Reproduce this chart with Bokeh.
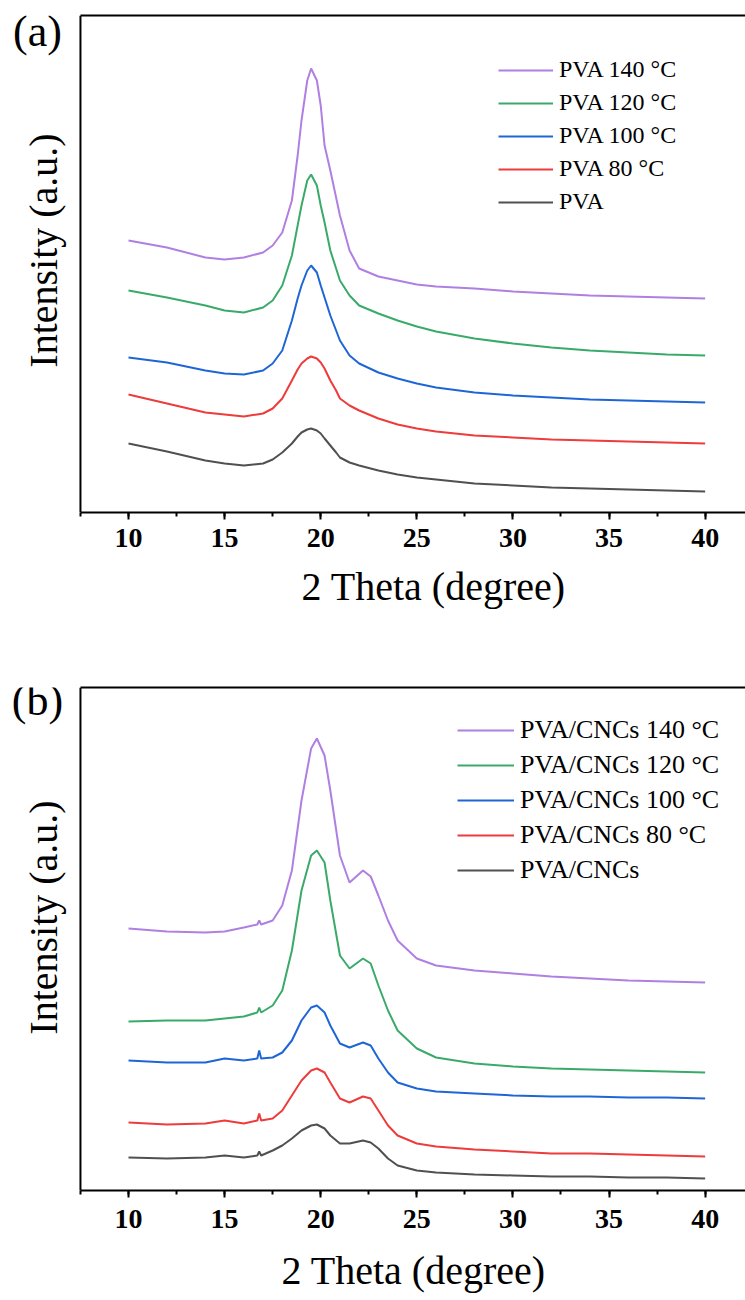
from bokeh.plotting import figure
from bokeh.layouts import column
from bokeh.models import (Range1d, SingleIntervalTicker, FixedTicker, Legend,
                          LegendItem, Label, Span, LinearAxis)
from bokeh.embed import file_html
from bokeh.resources import INLINE
import math

# ---------------- data (a) ----------------
theta_a = [10, 12, 14, 15, 16, 17, 17.5, 18, 18.5, 18.8, 19, 19.3, 19.5, 19.8,
           20, 20.2, 20.5, 20.8, 21, 21.5, 22, 23, 24, 25, 26, 28, 30, 32, 34,
           36, 38, 40]
pva_140 = [272, 265, 255, 253, 255, 260, 267, 280, 312, 357, 392, 432, 444, 432,
           407, 367, 342, 315, 297, 262, 244, 236, 232, 228, 226, 224, 221, 219,
           217, 216, 215, 214]
pva_120 = [222, 215, 207, 202, 200, 205, 212, 227, 257, 287, 307, 332, 338, 327,
           307, 290, 262, 244, 232, 217, 207, 199, 192, 186, 181, 174, 169, 165,
           162, 160, 158, 157]
pva_100 = [155, 150, 142, 139, 138, 142, 149, 162, 192, 214, 227, 242, 247, 240,
           227, 215, 197, 182, 172, 157, 149, 140, 134, 129, 125, 120, 117, 115,
           113, 112, 111, 110]
pva_80 = [118, 109, 100, 98, 96, 99, 104, 114, 132, 143, 149, 154, 156, 154,
          150, 144, 132, 122, 114, 107, 102, 94, 88, 84, 81, 77, 75, 73,
          72, 71, 70, 69]
pva_0 = [69, 61, 52, 49, 47, 49, 53, 60, 69, 76, 80, 83, 84, 82,
         79, 74, 67, 60, 55, 50, 47, 42, 38, 35, 33, 29, 27, 25,
         24, 23, 22, 21]
labels_a = ["PVA 140 °C", "PVA 120 °C", "PVA 100 °C", "PVA 80 °C", "PVA"]

# ---------------- data (b) ----------------
theta_b = [10, 12, 14, 15, 16, 16.7, 16.8, 16.9, 17.5, 18, 18.5, 19, 19.5, 19.8,
           20.2, 20.5, 21, 21.5, 22.2, 22.6, 23, 23.5, 24, 25, 26, 28, 30, 32,
           34, 36, 38, 40]
cnc_140 = [262, 259, 258, 259, 263, 266, 270, 266, 270, 285, 320, 390, 442, 452,
           435, 400, 335, 308, 320, 314, 295, 270, 250, 232, 225, 220, 217, 214,
           212, 210, 209, 208]
cnc_120 = [169, 170, 170, 172, 174, 178, 183, 178, 185, 200, 240, 300, 335, 340,
           328, 290, 235, 222, 232, 227, 205, 180, 160, 142, 133, 127, 124, 122,
           121, 120, 119, 118]
cnc_100 = [130, 128, 128, 132, 130, 132, 140, 132, 133, 138, 150, 170, 183, 185,
           178, 165, 147, 143, 148, 145, 132, 118, 108, 102, 99, 97, 95, 94,
           94, 93, 93, 92]
cnc_80 = [68, 66, 67, 70, 67, 70, 77, 70, 72, 80, 95, 110, 120, 122,
          118, 108, 92, 88, 94, 92, 80, 65, 55, 47, 44, 41, 39, 37,
          37, 36, 35, 34]
cnc_0 = [33, 32, 33, 35, 33, 35, 39, 35, 40, 45, 52, 60, 65, 66,
         62, 55, 47, 47, 50, 48, 42, 32, 25, 20, 18, 16, 15, 14,
         14, 13, 13, 12]
labels_b = ["PVA/CNCs 140 °C", "PVA/CNCs 120 °C", "PVA/CNCs 100 °C",
            "PVA/CNCs 80 °C", "PVA/CNCs"]

colors = ["#B07FE2", "#3AAA6A", "#1E66D6", "#EE3B3B", "#505050"]
x_ticks_interval = 5
x_axis_start, x_axis_end = 7.5, 42.1
x_view_start = 3.34   # leaves room left of the axis for the panel texts
x_title = "2 Theta (degree)"
y_title = "Intensity (a.u.)"

SERIF = "Liberation Serif"


def blank_axis(**kw):
    return LinearAxis(ticker=FixedTicker(ticks=[]),
                      major_tick_line_color=None, minor_tick_line_color=None,
                      major_label_text_font_size="0px", major_label_standoff=0,
                      **kw)


def panel(theta, series, labels, tag, top, bottom, ymax,
          leg_loc, leg_font, leg_row, leg_spacing, leg_glyph_w,
          tick_standoff, tag_y, ylab_y):
    p = figure(width=745, height=top + ymax + bottom, output_backend="svg",
               toolbar_location=None, y_axis_location=None,
               x_range=Range1d(x_view_start, x_axis_end),
               y_range=Range1d(0, ymax),
               min_border_left=0, min_border_right=0,
               min_border_top=top, min_border_bottom=bottom)
    p.outline_line_color = None
    p.xgrid.visible = False
    p.ygrid.visible = False

    rends = []
    for s, c in zip(series, colors):
        rends.append(p.line(theta, s, line_color=c, line_width=2))

    xa = p.xaxis[0]
    xa.bounds = (x_axis_start, x_axis_end)
    xa.ticker = SingleIntervalTicker(interval=x_ticks_interval, num_minor_ticks=2)
    xa.axis_line_width = 2
    xa.major_tick_line_width = 2
    xa.minor_tick_line_width = 2
    xa.major_tick_in = 0
    xa.major_tick_out = 7
    xa.minor_tick_in = 0
    xa.minor_tick_out = 4
    xa.major_label_standoff = tick_standoff
    xa.major_label_text_font = SERIF
    xa.major_label_text_font_style = "bold"
    xa.major_label_text_font_size = "28px"
    xa.major_label_text_color = "black"

    # top border of the frame (from the y axis to the right edge)
    p.add_layout(blank_axis(bounds=(x_axis_start, x_axis_end), axis_line_width=2,
                            major_tick_out=0, minor_tick_out=0), "above")

    # left axis line
    p.add_layout(Span(location=x_axis_start, dimension="height",
                      line_color="black", line_width=2))

    p.add_layout(Label(x=43, y=ylab_y, x_units="screen", y_units="screen",
                       text=y_title, angle=math.pi / 2,
                       text_align="center", text_baseline="middle",
                       text_font=SERIF, text_font_size="40px",
                       text_color="black"))
    p.add_layout(Label(x=37, y=tag_y, x_units="screen", y_units="screen",
                       text=tag, text_align="center", text_baseline="middle",
                       text_font=SERIF, text_font_size="44px",
                       text_color="black"))

    items = [LegendItem(label=l, renderers=[r]) for l, r in zip(labels, rends)]
    leg = Legend(items=items, location=leg_loc,
                 label_text_font=SERIF, label_text_font_size=leg_font,
                 label_text_color="black",
                 glyph_width=leg_glyph_w, glyph_height=leg_row,
                 label_height=leg_row, label_standoff=6,
                 spacing=leg_spacing, padding=0, margin=0,
                 border_line_color=None, background_fill_alpha=0)
    p.add_layout(leg)
    return p


def title_strip(height, x, y):
    """A blank strip holding the x-axis title under a panel."""
    t = figure(width=745, height=height, output_backend="svg",
               toolbar_location=None, x_axis_location=None,
               y_axis_location=None, x_range=Range1d(0, 1),
               y_range=Range1d(0, 1), min_border_left=0, min_border_right=0,
               min_border_top=0, min_border_bottom=0)
    t.outline_line_color = None
    t.xgrid.visible = False
    t.ygrid.visible = False
    t.add_layout(Label(x=x, y=y, x_units="screen", y_units="screen",
                       text=x_title, text_align="left", text_baseline="middle",
                       text_font=SERIF, text_font_size="40px",
                       text_color="black"))
    return t


pa = panel(theta_a, [pva_140, pva_120, pva_100, pva_80, pva_0], labels_a, "(a)",
           top=15, bottom=50, ymax=497,
           leg_loc=(498, 297), leg_font="24px", leg_row=26, leg_spacing=6,
           leg_glyph_w=55, tick_standoff=9, tag_y=481, ylab_y=262)
ta = title_strip(88, 301, 64)          # page rows 562..650
pb = panel(theta_b, [cnc_140, cnc_120, cnc_100, cnc_80, cnc_0], labels_b, "(b)",
           top=37, bottom=52, ymax=503,
           leg_loc=(457, 305), leg_font="26px", leg_row=28, leg_spacing=5,
           leg_glyph_w=57, tick_standoff=12, tag_y=490, ylab_y=273)
tb = title_strip(58, 281, 30)          # page rows 1242..1300

layout = column(pa, ta, pb, tb, spacing=0)
open("out.html", "w").write(file_html(layout, INLINE))
